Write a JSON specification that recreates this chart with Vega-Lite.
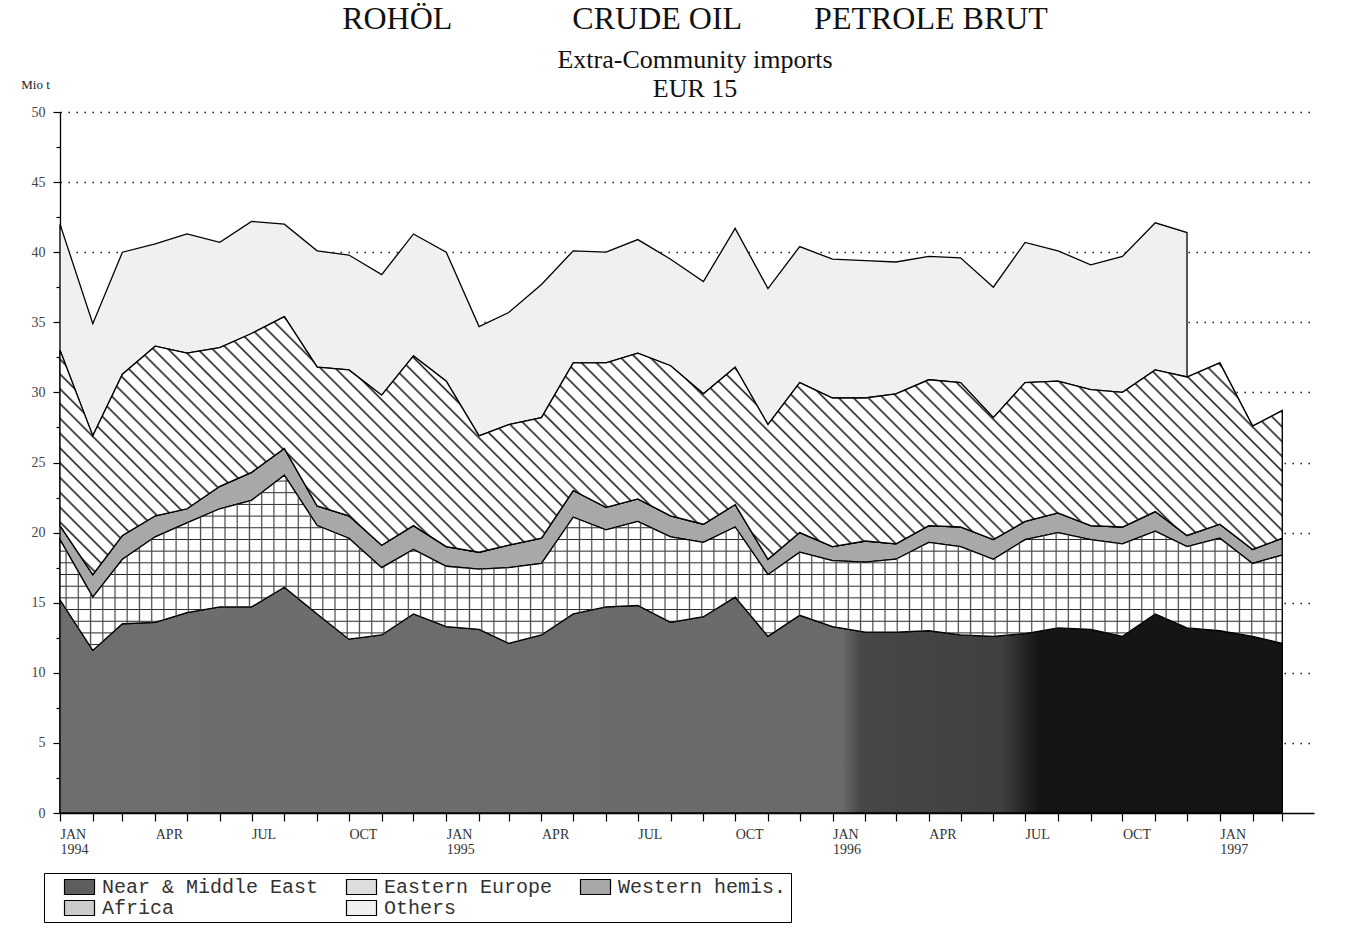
{
  "$schema": "https://vega.github.io/schema/vega-lite/v6.json",
  "width": 1254,
  "height": 701,
  "autosize": "none",
  "padding": {"left": 60, "top": 112, "right": 58, "bottom": 115},
  "background": "white",
  "config": {"view": {"stroke": null}, "font": "Liberation Serif"},
  "title": {
    "text": "ROHÖL\u00a0\u00a0\u00a0\u00a0\u00a0\u00a0\u00a0\u00a0\u00a0\u00a0\u00a0\u00a0\u00a0\u00a0\u00a0CRUDE OIL\u00a0\u00a0\u00a0\u00a0\u00a0\u00a0\u00a0\u00a0\u00a0PETROLE BRUT",
    "subtitle": ["Extra-Community imports", "EUR 15"],
    "anchor": "middle",
    "frame": "group",
    "dx": 8,
    "font": "Liberation Serif",
    "fontSize": 32,
    "fontWeight": "normal",
    "color": "#111",
    "subtitleFont": "Liberation Serif",
    "subtitleFontSize": 26,
    "subtitleColor": "#111",
    "subtitleLineHeight": 29,
    "subtitlePadding": 11,
    "offset": -25
  },
  "data": {
    "values": [
      {"month": "1994-01", "region": "Near & Middle East", "mt": 15.2},
      {"month": "1994-02", "region": "Near & Middle East", "mt": 11.6},
      {"month": "1994-03", "region": "Near & Middle East", "mt": 13.5},
      {"month": "1994-04", "region": "Near & Middle East", "mt": 13.6},
      {"month": "1994-05", "region": "Near & Middle East", "mt": 14.3},
      {"month": "1994-06", "region": "Near & Middle East", "mt": 14.7},
      {"month": "1994-07", "region": "Near & Middle East", "mt": 14.7},
      {"month": "1994-08", "region": "Near & Middle East", "mt": 16.1},
      {"month": "1994-09", "region": "Near & Middle East", "mt": 14.2},
      {"month": "1994-10", "region": "Near & Middle East", "mt": 12.4},
      {"month": "1994-11", "region": "Near & Middle East", "mt": 12.7},
      {"month": "1994-12", "region": "Near & Middle East", "mt": 14.2},
      {"month": "1995-01", "region": "Near & Middle East", "mt": 13.3},
      {"month": "1995-02", "region": "Near & Middle East", "mt": 13.1},
      {"month": "1995-03", "region": "Near & Middle East", "mt": 12.1},
      {"month": "1995-04", "region": "Near & Middle East", "mt": 12.7},
      {"month": "1995-05", "region": "Near & Middle East", "mt": 14.2},
      {"month": "1995-06", "region": "Near & Middle East", "mt": 14.7},
      {"month": "1995-07", "region": "Near & Middle East", "mt": 14.8},
      {"month": "1995-08", "region": "Near & Middle East", "mt": 13.6},
      {"month": "1995-09", "region": "Near & Middle East", "mt": 14.0},
      {"month": "1995-10", "region": "Near & Middle East", "mt": 15.4},
      {"month": "1995-11", "region": "Near & Middle East", "mt": 12.6},
      {"month": "1995-12", "region": "Near & Middle East", "mt": 14.1},
      {"month": "1996-01", "region": "Near & Middle East", "mt": 13.3},
      {"month": "1996-02", "region": "Near & Middle East", "mt": 12.9},
      {"month": "1996-03", "region": "Near & Middle East", "mt": 12.9},
      {"month": "1996-04", "region": "Near & Middle East", "mt": 13.0},
      {"month": "1996-05", "region": "Near & Middle East", "mt": 12.7},
      {"month": "1996-06", "region": "Near & Middle East", "mt": 12.6},
      {"month": "1996-07", "region": "Near & Middle East", "mt": 12.8},
      {"month": "1996-08", "region": "Near & Middle East", "mt": 13.2},
      {"month": "1996-09", "region": "Near & Middle East", "mt": 13.1},
      {"month": "1996-10", "region": "Near & Middle East", "mt": 12.6},
      {"month": "1996-11", "region": "Near & Middle East", "mt": 14.2},
      {"month": "1996-12", "region": "Near & Middle East", "mt": 13.2},
      {"month": "1997-01", "region": "Near & Middle East", "mt": 13.0},
      {"month": "1997-02", "region": "Near & Middle East", "mt": 12.6},
      {"month": "1997-03", "region": "Near & Middle East", "mt": 12.1},
      {"month": "1994-01", "region": "Eastern Europe", "mt": 4.3},
      {"month": "1994-02", "region": "Eastern Europe", "mt": 3.8},
      {"month": "1994-03", "region": "Eastern Europe", "mt": 4.6},
      {"month": "1994-04", "region": "Eastern Europe", "mt": 6.1},
      {"month": "1994-05", "region": "Eastern Europe", "mt": 6.4},
      {"month": "1994-06", "region": "Eastern Europe", "mt": 7.0},
      {"month": "1994-07", "region": "Eastern Europe", "mt": 7.6},
      {"month": "1994-08", "region": "Eastern Europe", "mt": 8.0},
      {"month": "1994-09", "region": "Eastern Europe", "mt": 6.3},
      {"month": "1994-10", "region": "Eastern Europe", "mt": 7.2},
      {"month": "1994-11", "region": "Eastern Europe", "mt": 4.8},
      {"month": "1994-12", "region": "Eastern Europe", "mt": 4.6},
      {"month": "1995-01", "region": "Eastern Europe", "mt": 4.3},
      {"month": "1995-02", "region": "Eastern Europe", "mt": 4.3},
      {"month": "1995-03", "region": "Eastern Europe", "mt": 5.4},
      {"month": "1995-04", "region": "Eastern Europe", "mt": 5.1},
      {"month": "1995-05", "region": "Eastern Europe", "mt": 6.9},
      {"month": "1995-06", "region": "Eastern Europe", "mt": 5.5},
      {"month": "1995-07", "region": "Eastern Europe", "mt": 6.0},
      {"month": "1995-08", "region": "Eastern Europe", "mt": 6.1},
      {"month": "1995-09", "region": "Eastern Europe", "mt": 5.3},
      {"month": "1995-10", "region": "Eastern Europe", "mt": 5.0},
      {"month": "1995-11", "region": "Eastern Europe", "mt": 4.4},
      {"month": "1995-12", "region": "Eastern Europe", "mt": 4.5},
      {"month": "1996-01", "region": "Eastern Europe", "mt": 4.7},
      {"month": "1996-02", "region": "Eastern Europe", "mt": 5.0},
      {"month": "1996-03", "region": "Eastern Europe", "mt": 5.2},
      {"month": "1996-04", "region": "Eastern Europe", "mt": 6.3},
      {"month": "1996-05", "region": "Eastern Europe", "mt": 6.3},
      {"month": "1996-06", "region": "Eastern Europe", "mt": 5.5},
      {"month": "1996-07", "region": "Eastern Europe", "mt": 6.7},
      {"month": "1996-08", "region": "Eastern Europe", "mt": 6.8},
      {"month": "1996-09", "region": "Eastern Europe", "mt": 6.4},
      {"month": "1996-10", "region": "Eastern Europe", "mt": 6.6},
      {"month": "1996-11", "region": "Eastern Europe", "mt": 5.9},
      {"month": "1996-12", "region": "Eastern Europe", "mt": 5.8},
      {"month": "1997-01", "region": "Eastern Europe", "mt": 6.6},
      {"month": "1997-02", "region": "Eastern Europe", "mt": 5.2},
      {"month": "1997-03", "region": "Eastern Europe", "mt": 6.3},
      {"month": "1994-01", "region": "Western hemis.", "mt": 1.0},
      {"month": "1994-02", "region": "Western hemis.", "mt": 1.6},
      {"month": "1994-03", "region": "Western hemis.", "mt": 1.7},
      {"month": "1994-04", "region": "Western hemis.", "mt": 1.5},
      {"month": "1994-05", "region": "Western hemis.", "mt": 1.0},
      {"month": "1994-06", "region": "Western hemis.", "mt": 1.6},
      {"month": "1994-07", "region": "Western hemis.", "mt": 2.0},
      {"month": "1994-08", "region": "Western hemis.", "mt": 1.9},
      {"month": "1994-09", "region": "Western hemis.", "mt": 1.4},
      {"month": "1994-10", "region": "Western hemis.", "mt": 1.6},
      {"month": "1994-11", "region": "Western hemis.", "mt": 1.6},
      {"month": "1994-12", "region": "Western hemis.", "mt": 1.7},
      {"month": "1995-01", "region": "Western hemis.", "mt": 1.4},
      {"month": "1995-02", "region": "Western hemis.", "mt": 1.2},
      {"month": "1995-03", "region": "Western hemis.", "mt": 1.6},
      {"month": "1995-04", "region": "Western hemis.", "mt": 1.8},
      {"month": "1995-05", "region": "Western hemis.", "mt": 1.9},
      {"month": "1995-06", "region": "Western hemis.", "mt": 1.6},
      {"month": "1995-07", "region": "Western hemis.", "mt": 1.6},
      {"month": "1995-08", "region": "Western hemis.", "mt": 1.5},
      {"month": "1995-09", "region": "Western hemis.", "mt": 1.3},
      {"month": "1995-10", "region": "Western hemis.", "mt": 1.6},
      {"month": "1995-11", "region": "Western hemis.", "mt": 1.1},
      {"month": "1995-12", "region": "Western hemis.", "mt": 1.4},
      {"month": "1996-01", "region": "Western hemis.", "mt": 1.0},
      {"month": "1996-02", "region": "Western hemis.", "mt": 1.5},
      {"month": "1996-03", "region": "Western hemis.", "mt": 1.1},
      {"month": "1996-04", "region": "Western hemis.", "mt": 1.2},
      {"month": "1996-05", "region": "Western hemis.", "mt": 1.4},
      {"month": "1996-06", "region": "Western hemis.", "mt": 1.4},
      {"month": "1996-07", "region": "Western hemis.", "mt": 1.3},
      {"month": "1996-08", "region": "Western hemis.", "mt": 1.4},
      {"month": "1996-09", "region": "Western hemis.", "mt": 1.0},
      {"month": "1996-10", "region": "Western hemis.", "mt": 1.2},
      {"month": "1996-11", "region": "Western hemis.", "mt": 1.4},
      {"month": "1996-12", "region": "Western hemis.", "mt": 0.8},
      {"month": "1997-01", "region": "Western hemis.", "mt": 1.0},
      {"month": "1997-02", "region": "Western hemis.", "mt": 1.0},
      {"month": "1997-03", "region": "Western hemis.", "mt": 1.2},
      {"month": "1994-01", "region": "Africa", "mt": 12.5},
      {"month": "1994-02", "region": "Africa", "mt": 9.9},
      {"month": "1994-03", "region": "Africa", "mt": 11.5},
      {"month": "1994-04", "region": "Africa", "mt": 12.1},
      {"month": "1994-05", "region": "Africa", "mt": 11.1},
      {"month": "1994-06", "region": "Africa", "mt": 9.9},
      {"month": "1994-07", "region": "Africa", "mt": 9.9},
      {"month": "1994-08", "region": "Africa", "mt": 9.4},
      {"month": "1994-09", "region": "Africa", "mt": 9.9},
      {"month": "1994-10", "region": "Africa", "mt": 10.4},
      {"month": "1994-11", "region": "Africa", "mt": 10.7},
      {"month": "1994-12", "region": "Africa", "mt": 12.1},
      {"month": "1995-01", "region": "Africa", "mt": 11.8},
      {"month": "1995-02", "region": "Africa", "mt": 8.3},
      {"month": "1995-03", "region": "Africa", "mt": 8.6},
      {"month": "1995-04", "region": "Africa", "mt": 8.6},
      {"month": "1995-05", "region": "Africa", "mt": 9.1},
      {"month": "1995-06", "region": "Africa", "mt": 10.3},
      {"month": "1995-07", "region": "Africa", "mt": 10.4},
      {"month": "1995-08", "region": "Africa", "mt": 10.7},
      {"month": "1995-09", "region": "Africa", "mt": 9.3},
      {"month": "1995-10", "region": "Africa", "mt": 9.8},
      {"month": "1995-11", "region": "Africa", "mt": 9.6},
      {"month": "1995-12", "region": "Africa", "mt": 10.7},
      {"month": "1996-01", "region": "Africa", "mt": 10.6},
      {"month": "1996-02", "region": "Africa", "mt": 10.2},
      {"month": "1996-03", "region": "Africa", "mt": 10.7},
      {"month": "1996-04", "region": "Africa", "mt": 10.4},
      {"month": "1996-05", "region": "Africa", "mt": 10.3},
      {"month": "1996-06", "region": "Africa", "mt": 8.7},
      {"month": "1996-07", "region": "Africa", "mt": 9.9},
      {"month": "1996-08", "region": "Africa", "mt": 9.4},
      {"month": "1996-09", "region": "Africa", "mt": 9.7},
      {"month": "1996-10", "region": "Africa", "mt": 9.6},
      {"month": "1996-11", "region": "Africa", "mt": 10.1},
      {"month": "1996-12", "region": "Africa", "mt": 11.3},
      {"month": "1997-01", "region": "Africa", "mt": 11.5},
      {"month": "1997-02", "region": "Africa", "mt": 8.8},
      {"month": "1997-03", "region": "Africa", "mt": 9.1},
      {"month": "1994-01", "region": "Others", "mt": 9.0},
      {"month": "1994-02", "region": "Others", "mt": 8.0},
      {"month": "1994-03", "region": "Others", "mt": 8.7},
      {"month": "1994-04", "region": "Others", "mt": 7.3},
      {"month": "1994-05", "region": "Others", "mt": 8.5},
      {"month": "1994-06", "region": "Others", "mt": 7.5},
      {"month": "1994-07", "region": "Others", "mt": 8.0},
      {"month": "1994-08", "region": "Others", "mt": 6.6},
      {"month": "1994-09", "region": "Others", "mt": 8.3},
      {"month": "1994-10", "region": "Others", "mt": 8.2},
      {"month": "1994-11", "region": "Others", "mt": 8.6},
      {"month": "1994-12", "region": "Others", "mt": 8.7},
      {"month": "1995-01", "region": "Others", "mt": 9.2},
      {"month": "1995-02", "region": "Others", "mt": 7.8},
      {"month": "1995-03", "region": "Others", "mt": 8.0},
      {"month": "1995-04", "region": "Others", "mt": 9.5},
      {"month": "1995-05", "region": "Others", "mt": 8.0},
      {"month": "1995-06", "region": "Others", "mt": 7.9},
      {"month": "1995-07", "region": "Others", "mt": 8.1},
      {"month": "1995-08", "region": "Others", "mt": 7.6},
      {"month": "1995-09", "region": "Others", "mt": 8.0},
      {"month": "1995-10", "region": "Others", "mt": 9.9},
      {"month": "1995-11", "region": "Others", "mt": 9.7},
      {"month": "1995-12", "region": "Others", "mt": 9.7},
      {"month": "1996-01", "region": "Others", "mt": 9.9},
      {"month": "1996-02", "region": "Others", "mt": 9.8},
      {"month": "1996-03", "region": "Others", "mt": 9.4},
      {"month": "1996-04", "region": "Others", "mt": 8.8},
      {"month": "1996-05", "region": "Others", "mt": 8.9},
      {"month": "1996-06", "region": "Others", "mt": 9.3},
      {"month": "1996-07", "region": "Others", "mt": 10.0},
      {"month": "1996-08", "region": "Others", "mt": 9.3},
      {"month": "1996-09", "region": "Others", "mt": 8.9},
      {"month": "1996-10", "region": "Others", "mt": 9.7},
      {"month": "1996-11", "region": "Others", "mt": 10.5},
      {"month": "1996-12", "region": "Others", "mt": 10.3}
    ]
  },
  "transform": [
    {"calculate": "indexof(['Near & Middle East', 'Eastern Europe', 'Western hemis.', 'Africa', 'Others'], datum.region)", "as": "stack_rank"},
    {"stack": "mt", "groupby": ["month"], "sort": [{"field": "stack_rank", "order": "ascending"}], "as": ["lo", "hi"]}
  ],
  "encoding": {
    "x": {
      "field": "month",
      "type": "temporal",
      "scale": {"type": "utc", "domain": [{"year": 1994, "month": 1, "date": 1, "utc": true}, {"year": 1997, "month": 3, "date": 31, "utc": true}]},
      "axis": {
        "title": null,
        "tickCount": {"interval": "month", "step": 1},
        "grid": false,
        "domainColor": "black",
        "domainWidth": 1.3,
        "tickColor": "black",
        "tickSize": 8,
        "tickWidth": 1.2,
        "labelAlign": "left",
        "labelBaseline": "top",
        "labelPadding": 6,
        "labelFont": "Liberation Serif",
        "labelFontSize": 14,
        "labelColor": "#333",
        "labelLineHeight": 15,
        "labelOverlap": false,
        "labelFlush": false,
        "labelBound": false,
        "labelExpr": "utcmonth(datum.value) == 0 ? ['JAN', utcFormat(datum.value, '%Y')] : utcmonth(datum.value) == 3 ? 'APR' : utcmonth(datum.value) == 6 ? 'JUL' : utcmonth(datum.value) == 9 ? 'OCT' : ''"
      }
    },
    "y": {
      "field": "hi",
      "type": "quantitative",
      "scale": {"domain": [0, 50], "nice": false},
      "axis": {
        "title": "Mio t",
        "titleAngle": 0,
        "titleX": -25,
        "titleY": -28,
        "titleAlign": "center",
        "titleBaseline": "middle",
        "titleFont": "Liberation Serif",
        "titleFontSize": 13,
        "titleFontWeight": "normal",
        "titleColor": "#222",
        "values": [0, 2.5, 5, 7.5, 10, 12.5, 15, 17.5, 20, 22.5, 25, 27.5, 30, 32.5, 35, 37.5, 40, 42.5, 45, 47.5, 50],
        "labelExpr": "datum.value % 5 == 0 ? format(datum.value, 'd') : ''",
        "tickSize": {"condition": {"test": "datum.value % 5 == 0", "value": 7}, "value": 4},
        "tickColor": "black",
        "tickWidth": 1.2,
        "grid": true,
        "gridOpacity": {"condition": {"test": "datum.value % 5 == 0 && datum.value > 0", "value": 1}, "value": 0},
        "gridDash": [1.5, 6.5],
        "gridColor": "#222",
        "gridWidth": 1.3,
        "domainColor": "black",
        "domainWidth": 1.3,
        "labelFont": "Liberation Serif",
        "labelFontSize": 14,
        "labelColor": "#444",
        "labelPadding": 8
      }
    },
    "y2": {"field": "lo"}
  },
  "layer": [
    {
      "mark": {"type": "area", "stroke": "black", "strokeWidth": 1.3, "opacity": 1, "interpolate": "linear", "strokeJoin": "miter"},
      "encoding": {
        "color": {
          "field": "region",
          "type": "nominal",
          "sort": ["Near & Middle East", "Eastern Europe", "Western hemis.", "Africa", "Others"],
          "scale": {
            "domain": ["Near & Middle East", "Eastern Europe", "Western hemis.", "Africa", "Others"],
            "range": ["#5e5e5e", "#dedede", "#a8a8a8", "#cbcbcb", "#f0f0f0"]
          },
          "legend": {
            "orient": "none",
            "legendX": -16,
            "legendY": 761,
            "direction": "horizontal",
            "columns": 3,
            "title": "\u00a0",
            "titleOrient": "left",
            "titleFontSize": 2,
            "titlePadding": 14,
            "symbolType": "M-1,-1H3V1H-1Z",
            "symbolSize": 225,
            "symbolStrokeColor": "black",
            "symbolStrokeWidth": 1.2,
            "symbolOpacity": 1,
            "labelFont": "Liberation Mono",
            "labelFontSize": 20,
            "labelColor": "#333",
            "labelLimit": 400,
            "labelOffset": 20,
            "columnPadding": 25,
            "rowPadding": 1,
            "padding": 4,
            "strokeColor": "black",
            "fillColor": "white"
          }
        }
      }
    },
    {
      "transform": [{"filter": {"field": "region", "equal": "Near & Middle East"}}],
      "mark": {
        "type": "area", "stroke": "black", "strokeWidth": 1.3, "opacity": 1, "interpolate": "linear", "strokeJoin": "miter",
        "fill": {"gradient": "linear", "x1": 0, "y1": 0, "x2": 1, "y2": 0, "stops": [
          {"offset": 0, "color": "#6e6e6e"},
          {"offset": 0.64, "color": "#6a6a6a"},
          {"offset": 0.655, "color": "#474747"},
          {"offset": 0.77, "color": "#404040"},
          {"offset": 0.8, "color": "#151515"},
          {"offset": 1, "color": "#151515"}
        ]}
      }
    },
    {
      "transform": [{"filter": {"field": "region", "equal": "Eastern Europe"}}],
      "mark": {
        "type": "area", "stroke": "black", "strokeWidth": 1.3, "opacity": 1, "interpolate": "linear", "strokeJoin": "miter",
        "fill": {"gradient": "linear", "x1": 0, "y1": 0, "x2": 0, "y2": 1, "stops": [
          {"offset":0.0283,"color":"#fff"},{"offset":0.0338,"color":"#222"},{"offset":0.0393,"color":"#fff"},
          {"offset":0.0949,"color":"#fff"},{"offset":0.1004,"color":"#222"},{"offset":0.1059,"color":"#fff"},
          {"offset":0.1616,"color":"#fff"},{"offset":0.1671,"color":"#222"},{"offset":0.1726,"color":"#fff"},
          {"offset":0.2283,"color":"#fff"},{"offset":0.2338,"color":"#222"},{"offset":0.2393,"color":"#fff"},
          {"offset":0.2949,"color":"#fff"},{"offset":0.3004,"color":"#222"},{"offset":0.3059,"color":"#fff"},
          {"offset":0.3616,"color":"#fff"},{"offset":0.3671,"color":"#222"},{"offset":0.3726,"color":"#fff"},
          {"offset":0.4283,"color":"#fff"},{"offset":0.4338,"color":"#222"},{"offset":0.4393,"color":"#fff"},
          {"offset":0.4949,"color":"#fff"},{"offset":0.5004,"color":"#222"},{"offset":0.5059,"color":"#fff"},
          {"offset":0.5616,"color":"#fff"},{"offset":0.5671,"color":"#222"},{"offset":0.5726,"color":"#fff"},
          {"offset":0.6283,"color":"#fff"},{"offset":0.6338,"color":"#222"},{"offset":0.6393,"color":"#fff"},
          {"offset":0.6949,"color":"#fff"},{"offset":0.7004,"color":"#222"},{"offset":0.7059,"color":"#fff"},
          {"offset":0.7616,"color":"#fff"},{"offset":0.7671,"color":"#222"},{"offset":0.7726,"color":"#fff"},
          {"offset":0.8283,"color":"#fff"},{"offset":0.8338,"color":"#222"},{"offset":0.8393,"color":"#fff"},
          {"offset":0.8949,"color":"#fff"},{"offset":0.9004,"color":"#222"},{"offset":0.9059,"color":"#fff"},
          {"offset":0.9616,"color":"#fff"},{"offset":0.9671,"color":"#222"},{"offset":0.9726,"color":"#fff"}
        ]}
      }
    },
    {
      "transform": [{"filter": {"field": "region", "equal": "Eastern Europe"}}],
      "mark": {
        "type": "area", "strokeWidth": 0, "opacity": 1, "interpolate": "linear",
        "fill": {"gradient": "linear", "x1": 0, "y1": 0, "x2": 1, "y2": 0, "stops": [
          {"offset":0.004,"color":"rgba(74,74,74,0)"},{"offset":0.005,"color":"#4a4a4a"},{"offset":0.006,"color":"rgba(74,74,74,0)"},
          {"offset":0.014,"color":"rgba(74,74,74,0)"},{"offset":0.015,"color":"#4a4a4a"},{"offset":0.016,"color":"rgba(74,74,74,0)"},
          {"offset":0.024,"color":"rgba(74,74,74,0)"},{"offset":0.025,"color":"#4a4a4a"},{"offset":0.026,"color":"rgba(74,74,74,0)"},
          {"offset":0.034,"color":"rgba(74,74,74,0)"},{"offset":0.035,"color":"#4a4a4a"},{"offset":0.036,"color":"rgba(74,74,74,0)"},
          {"offset":0.044,"color":"rgba(74,74,74,0)"},{"offset":0.045,"color":"#4a4a4a"},{"offset":0.046,"color":"rgba(74,74,74,0)"},
          {"offset":0.054,"color":"rgba(74,74,74,0)"},{"offset":0.055,"color":"#4a4a4a"},{"offset":0.056,"color":"rgba(74,74,74,0)"},
          {"offset":0.064,"color":"rgba(74,74,74,0)"},{"offset":0.065,"color":"#4a4a4a"},{"offset":0.066,"color":"rgba(74,74,74,0)"},
          {"offset":0.074,"color":"rgba(74,74,74,0)"},{"offset":0.075,"color":"#4a4a4a"},{"offset":0.076,"color":"rgba(74,74,74,0)"},
          {"offset":0.084,"color":"rgba(74,74,74,0)"},{"offset":0.085,"color":"#4a4a4a"},{"offset":0.086,"color":"rgba(74,74,74,0)"},
          {"offset":0.094,"color":"rgba(74,74,74,0)"},{"offset":0.095,"color":"#4a4a4a"},{"offset":0.096,"color":"rgba(74,74,74,0)"},
          {"offset":0.104,"color":"rgba(74,74,74,0)"},{"offset":0.105,"color":"#4a4a4a"},{"offset":0.106,"color":"rgba(74,74,74,0)"},
          {"offset":0.114,"color":"rgba(74,74,74,0)"},{"offset":0.115,"color":"#4a4a4a"},{"offset":0.116,"color":"rgba(74,74,74,0)"},
          {"offset":0.124,"color":"rgba(74,74,74,0)"},{"offset":0.125,"color":"#4a4a4a"},{"offset":0.126,"color":"rgba(74,74,74,0)"},
          {"offset":0.134,"color":"rgba(74,74,74,0)"},{"offset":0.135,"color":"#4a4a4a"},{"offset":0.136,"color":"rgba(74,74,74,0)"},
          {"offset":0.144,"color":"rgba(74,74,74,0)"},{"offset":0.145,"color":"#4a4a4a"},{"offset":0.146,"color":"rgba(74,74,74,0)"},
          {"offset":0.154,"color":"rgba(74,74,74,0)"},{"offset":0.155,"color":"#4a4a4a"},{"offset":0.156,"color":"rgba(74,74,74,0)"},
          {"offset":0.164,"color":"rgba(74,74,74,0)"},{"offset":0.165,"color":"#4a4a4a"},{"offset":0.166,"color":"rgba(74,74,74,0)"},
          {"offset":0.174,"color":"rgba(74,74,74,0)"},{"offset":0.175,"color":"#4a4a4a"},{"offset":0.176,"color":"rgba(74,74,74,0)"},
          {"offset":0.184,"color":"rgba(74,74,74,0)"},{"offset":0.185,"color":"#4a4a4a"},{"offset":0.186,"color":"rgba(74,74,74,0)"},
          {"offset":0.194,"color":"rgba(74,74,74,0)"},{"offset":0.195,"color":"#4a4a4a"},{"offset":0.196,"color":"rgba(74,74,74,0)"},
          {"offset":0.204,"color":"rgba(74,74,74,0)"},{"offset":0.205,"color":"#4a4a4a"},{"offset":0.206,"color":"rgba(74,74,74,0)"},
          {"offset":0.214,"color":"rgba(74,74,74,0)"},{"offset":0.215,"color":"#4a4a4a"},{"offset":0.216,"color":"rgba(74,74,74,0)"},
          {"offset":0.224,"color":"rgba(74,74,74,0)"},{"offset":0.225,"color":"#4a4a4a"},{"offset":0.226,"color":"rgba(74,74,74,0)"},
          {"offset":0.234,"color":"rgba(74,74,74,0)"},{"offset":0.235,"color":"#4a4a4a"},{"offset":0.236,"color":"rgba(74,74,74,0)"},
          {"offset":0.244,"color":"rgba(74,74,74,0)"},{"offset":0.245,"color":"#4a4a4a"},{"offset":0.246,"color":"rgba(74,74,74,0)"},
          {"offset":0.254,"color":"rgba(74,74,74,0)"},{"offset":0.255,"color":"#4a4a4a"},{"offset":0.256,"color":"rgba(74,74,74,0)"},
          {"offset":0.264,"color":"rgba(74,74,74,0)"},{"offset":0.265,"color":"#4a4a4a"},{"offset":0.266,"color":"rgba(74,74,74,0)"},
          {"offset":0.274,"color":"rgba(74,74,74,0)"},{"offset":0.275,"color":"#4a4a4a"},{"offset":0.276,"color":"rgba(74,74,74,0)"},
          {"offset":0.284,"color":"rgba(74,74,74,0)"},{"offset":0.285,"color":"#4a4a4a"},{"offset":0.286,"color":"rgba(74,74,74,0)"},
          {"offset":0.294,"color":"rgba(74,74,74,0)"},{"offset":0.295,"color":"#4a4a4a"},{"offset":0.296,"color":"rgba(74,74,74,0)"},
          {"offset":0.304,"color":"rgba(74,74,74,0)"},{"offset":0.305,"color":"#4a4a4a"},{"offset":0.306,"color":"rgba(74,74,74,0)"},
          {"offset":0.314,"color":"rgba(74,74,74,0)"},{"offset":0.315,"color":"#4a4a4a"},{"offset":0.316,"color":"rgba(74,74,74,0)"},
          {"offset":0.324,"color":"rgba(74,74,74,0)"},{"offset":0.325,"color":"#4a4a4a"},{"offset":0.326,"color":"rgba(74,74,74,0)"},
          {"offset":0.334,"color":"rgba(74,74,74,0)"},{"offset":0.335,"color":"#4a4a4a"},{"offset":0.336,"color":"rgba(74,74,74,0)"},
          {"offset":0.344,"color":"rgba(74,74,74,0)"},{"offset":0.345,"color":"#4a4a4a"},{"offset":0.346,"color":"rgba(74,74,74,0)"},
          {"offset":0.354,"color":"rgba(74,74,74,0)"},{"offset":0.355,"color":"#4a4a4a"},{"offset":0.356,"color":"rgba(74,74,74,0)"},
          {"offset":0.364,"color":"rgba(74,74,74,0)"},{"offset":0.365,"color":"#4a4a4a"},{"offset":0.366,"color":"rgba(74,74,74,0)"},
          {"offset":0.374,"color":"rgba(74,74,74,0)"},{"offset":0.375,"color":"#4a4a4a"},{"offset":0.376,"color":"rgba(74,74,74,0)"},
          {"offset":0.384,"color":"rgba(74,74,74,0)"},{"offset":0.385,"color":"#4a4a4a"},{"offset":0.386,"color":"rgba(74,74,74,0)"},
          {"offset":0.394,"color":"rgba(74,74,74,0)"},{"offset":0.395,"color":"#4a4a4a"},{"offset":0.396,"color":"rgba(74,74,74,0)"},
          {"offset":0.404,"color":"rgba(74,74,74,0)"},{"offset":0.405,"color":"#4a4a4a"},{"offset":0.406,"color":"rgba(74,74,74,0)"},
          {"offset":0.414,"color":"rgba(74,74,74,0)"},{"offset":0.415,"color":"#4a4a4a"},{"offset":0.416,"color":"rgba(74,74,74,0)"},
          {"offset":0.424,"color":"rgba(74,74,74,0)"},{"offset":0.425,"color":"#4a4a4a"},{"offset":0.426,"color":"rgba(74,74,74,0)"},
          {"offset":0.434,"color":"rgba(74,74,74,0)"},{"offset":0.435,"color":"#4a4a4a"},{"offset":0.436,"color":"rgba(74,74,74,0)"},
          {"offset":0.444,"color":"rgba(74,74,74,0)"},{"offset":0.445,"color":"#4a4a4a"},{"offset":0.446,"color":"rgba(74,74,74,0)"},
          {"offset":0.454,"color":"rgba(74,74,74,0)"},{"offset":0.455,"color":"#4a4a4a"},{"offset":0.456,"color":"rgba(74,74,74,0)"},
          {"offset":0.464,"color":"rgba(74,74,74,0)"},{"offset":0.465,"color":"#4a4a4a"},{"offset":0.466,"color":"rgba(74,74,74,0)"},
          {"offset":0.474,"color":"rgba(74,74,74,0)"},{"offset":0.475,"color":"#4a4a4a"},{"offset":0.476,"color":"rgba(74,74,74,0)"},
          {"offset":0.484,"color":"rgba(74,74,74,0)"},{"offset":0.485,"color":"#4a4a4a"},{"offset":0.486,"color":"rgba(74,74,74,0)"},
          {"offset":0.494,"color":"rgba(74,74,74,0)"},{"offset":0.495,"color":"#4a4a4a"},{"offset":0.496,"color":"rgba(74,74,74,0)"},
          {"offset":0.504,"color":"rgba(74,74,74,0)"},{"offset":0.505,"color":"#4a4a4a"},{"offset":0.506,"color":"rgba(74,74,74,0)"},
          {"offset":0.514,"color":"rgba(74,74,74,0)"},{"offset":0.515,"color":"#4a4a4a"},{"offset":0.516,"color":"rgba(74,74,74,0)"},
          {"offset":0.524,"color":"rgba(74,74,74,0)"},{"offset":0.525,"color":"#4a4a4a"},{"offset":0.526,"color":"rgba(74,74,74,0)"},
          {"offset":0.534,"color":"rgba(74,74,74,0)"},{"offset":0.535,"color":"#4a4a4a"},{"offset":0.536,"color":"rgba(74,74,74,0)"},
          {"offset":0.544,"color":"rgba(74,74,74,0)"},{"offset":0.545,"color":"#4a4a4a"},{"offset":0.546,"color":"rgba(74,74,74,0)"},
          {"offset":0.554,"color":"rgba(74,74,74,0)"},{"offset":0.555,"color":"#4a4a4a"},{"offset":0.556,"color":"rgba(74,74,74,0)"},
          {"offset":0.564,"color":"rgba(74,74,74,0)"},{"offset":0.565,"color":"#4a4a4a"},{"offset":0.566,"color":"rgba(74,74,74,0)"},
          {"offset":0.574,"color":"rgba(74,74,74,0)"},{"offset":0.575,"color":"#4a4a4a"},{"offset":0.576,"color":"rgba(74,74,74,0)"},
          {"offset":0.584,"color":"rgba(74,74,74,0)"},{"offset":0.585,"color":"#4a4a4a"},{"offset":0.586,"color":"rgba(74,74,74,0)"},
          {"offset":0.594,"color":"rgba(74,74,74,0)"},{"offset":0.595,"color":"#4a4a4a"},{"offset":0.596,"color":"rgba(74,74,74,0)"},
          {"offset":0.604,"color":"rgba(74,74,74,0)"},{"offset":0.605,"color":"#4a4a4a"},{"offset":0.606,"color":"rgba(74,74,74,0)"},
          {"offset":0.614,"color":"rgba(74,74,74,0)"},{"offset":0.615,"color":"#4a4a4a"},{"offset":0.616,"color":"rgba(74,74,74,0)"},
          {"offset":0.624,"color":"rgba(74,74,74,0)"},{"offset":0.625,"color":"#4a4a4a"},{"offset":0.626,"color":"rgba(74,74,74,0)"},
          {"offset":0.634,"color":"rgba(74,74,74,0)"},{"offset":0.635,"color":"#4a4a4a"},{"offset":0.636,"color":"rgba(74,74,74,0)"},
          {"offset":0.644,"color":"rgba(74,74,74,0)"},{"offset":0.645,"color":"#4a4a4a"},{"offset":0.646,"color":"rgba(74,74,74,0)"},
          {"offset":0.654,"color":"rgba(74,74,74,0)"},{"offset":0.655,"color":"#4a4a4a"},{"offset":0.656,"color":"rgba(74,74,74,0)"},
          {"offset":0.664,"color":"rgba(74,74,74,0)"},{"offset":0.665,"color":"#4a4a4a"},{"offset":0.666,"color":"rgba(74,74,74,0)"},
          {"offset":0.674,"color":"rgba(74,74,74,0)"},{"offset":0.675,"color":"#4a4a4a"},{"offset":0.676,"color":"rgba(74,74,74,0)"},
          {"offset":0.684,"color":"rgba(74,74,74,0)"},{"offset":0.685,"color":"#4a4a4a"},{"offset":0.686,"color":"rgba(74,74,74,0)"},
          {"offset":0.694,"color":"rgba(74,74,74,0)"},{"offset":0.695,"color":"#4a4a4a"},{"offset":0.696,"color":"rgba(74,74,74,0)"},
          {"offset":0.704,"color":"rgba(74,74,74,0)"},{"offset":0.705,"color":"#4a4a4a"},{"offset":0.706,"color":"rgba(74,74,74,0)"},
          {"offset":0.714,"color":"rgba(74,74,74,0)"},{"offset":0.715,"color":"#4a4a4a"},{"offset":0.716,"color":"rgba(74,74,74,0)"},
          {"offset":0.724,"color":"rgba(74,74,74,0)"},{"offset":0.725,"color":"#4a4a4a"},{"offset":0.726,"color":"rgba(74,74,74,0)"},
          {"offset":0.734,"color":"rgba(74,74,74,0)"},{"offset":0.735,"color":"#4a4a4a"},{"offset":0.736,"color":"rgba(74,74,74,0)"},
          {"offset":0.744,"color":"rgba(74,74,74,0)"},{"offset":0.745,"color":"#4a4a4a"},{"offset":0.746,"color":"rgba(74,74,74,0)"},
          {"offset":0.754,"color":"rgba(74,74,74,0)"},{"offset":0.755,"color":"#4a4a4a"},{"offset":0.756,"color":"rgba(74,74,74,0)"},
          {"offset":0.764,"color":"rgba(74,74,74,0)"},{"offset":0.765,"color":"#4a4a4a"},{"offset":0.766,"color":"rgba(74,74,74,0)"},
          {"offset":0.774,"color":"rgba(74,74,74,0)"},{"offset":0.775,"color":"#4a4a4a"},{"offset":0.776,"color":"rgba(74,74,74,0)"},
          {"offset":0.784,"color":"rgba(74,74,74,0)"},{"offset":0.785,"color":"#4a4a4a"},{"offset":0.786,"color":"rgba(74,74,74,0)"},
          {"offset":0.794,"color":"rgba(74,74,74,0)"},{"offset":0.795,"color":"#4a4a4a"},{"offset":0.796,"color":"rgba(74,74,74,0)"},
          {"offset":0.804,"color":"rgba(74,74,74,0)"},{"offset":0.805,"color":"#4a4a4a"},{"offset":0.806,"color":"rgba(74,74,74,0)"},
          {"offset":0.814,"color":"rgba(74,74,74,0)"},{"offset":0.815,"color":"#4a4a4a"},{"offset":0.816,"color":"rgba(74,74,74,0)"},
          {"offset":0.824,"color":"rgba(74,74,74,0)"},{"offset":0.825,"color":"#4a4a4a"},{"offset":0.826,"color":"rgba(74,74,74,0)"},
          {"offset":0.834,"color":"rgba(74,74,74,0)"},{"offset":0.835,"color":"#4a4a4a"},{"offset":0.836,"color":"rgba(74,74,74,0)"},
          {"offset":0.844,"color":"rgba(74,74,74,0)"},{"offset":0.845,"color":"#4a4a4a"},{"offset":0.846,"color":"rgba(74,74,74,0)"},
          {"offset":0.854,"color":"rgba(74,74,74,0)"},{"offset":0.855,"color":"#4a4a4a"},{"offset":0.856,"color":"rgba(74,74,74,0)"},
          {"offset":0.864,"color":"rgba(74,74,74,0)"},{"offset":0.865,"color":"#4a4a4a"},{"offset":0.866,"color":"rgba(74,74,74,0)"},
          {"offset":0.874,"color":"rgba(74,74,74,0)"},{"offset":0.875,"color":"#4a4a4a"},{"offset":0.876,"color":"rgba(74,74,74,0)"},
          {"offset":0.884,"color":"rgba(74,74,74,0)"},{"offset":0.885,"color":"#4a4a4a"},{"offset":0.886,"color":"rgba(74,74,74,0)"},
          {"offset":0.894,"color":"rgba(74,74,74,0)"},{"offset":0.895,"color":"#4a4a4a"},{"offset":0.896,"color":"rgba(74,74,74,0)"},
          {"offset":0.904,"color":"rgba(74,74,74,0)"},{"offset":0.905,"color":"#4a4a4a"},{"offset":0.906,"color":"rgba(74,74,74,0)"},
          {"offset":0.914,"color":"rgba(74,74,74,0)"},{"offset":0.915,"color":"#4a4a4a"},{"offset":0.916,"color":"rgba(74,74,74,0)"},
          {"offset":0.924,"color":"rgba(74,74,74,0)"},{"offset":0.925,"color":"#4a4a4a"},{"offset":0.926,"color":"rgba(74,74,74,0)"},
          {"offset":0.934,"color":"rgba(74,74,74,0)"},{"offset":0.935,"color":"#4a4a4a"},{"offset":0.936,"color":"rgba(74,74,74,0)"},
          {"offset":0.944,"color":"rgba(74,74,74,0)"},{"offset":0.945,"color":"#4a4a4a"},{"offset":0.946,"color":"rgba(74,74,74,0)"},
          {"offset":0.954,"color":"rgba(74,74,74,0)"},{"offset":0.955,"color":"#4a4a4a"},{"offset":0.956,"color":"rgba(74,74,74,0)"},
          {"offset":0.964,"color":"rgba(74,74,74,0)"},{"offset":0.965,"color":"#4a4a4a"},{"offset":0.966,"color":"rgba(74,74,74,0)"},
          {"offset":0.974,"color":"rgba(74,74,74,0)"},{"offset":0.975,"color":"#4a4a4a"},{"offset":0.976,"color":"rgba(74,74,74,0)"},
          {"offset":0.984,"color":"rgba(74,74,74,0)"},{"offset":0.985,"color":"#4a4a4a"},{"offset":0.986,"color":"rgba(74,74,74,0)"},
          {"offset":0.994,"color":"rgba(74,74,74,0)"},{"offset":0.995,"color":"#4a4a4a"},{"offset":0.996,"color":"rgba(74,74,74,0)"}
        ]}
      }
    },
    {
      "transform": [{"filter": {"field": "region", "equal": "Africa"}}],
      "mark": {
        "type": "area", "stroke": "black", "strokeWidth": 1.3, "opacity": 1, "interpolate": "linear", "strokeJoin": "miter",
        "fill": {"gradient": "linear", "x1": 1, "y1": 0, "x2": -0.1594, "y2": 0.2448, "stops": [
          {"offset":0.003,"color":"#fff"},{"offset":0.0045,"color":"#1c1c1c"},{"offset":0.006,"color":"#fff"},
          {"offset":0.013,"color":"#fff"},{"offset":0.0145,"color":"#1c1c1c"},{"offset":0.016,"color":"#fff"},
          {"offset":0.023,"color":"#fff"},{"offset":0.0245,"color":"#1c1c1c"},{"offset":0.026,"color":"#fff"},
          {"offset":0.033,"color":"#fff"},{"offset":0.0345,"color":"#1c1c1c"},{"offset":0.036,"color":"#fff"},
          {"offset":0.043,"color":"#fff"},{"offset":0.0445,"color":"#1c1c1c"},{"offset":0.046,"color":"#fff"},
          {"offset":0.053,"color":"#fff"},{"offset":0.0545,"color":"#1c1c1c"},{"offset":0.056,"color":"#fff"},
          {"offset":0.063,"color":"#fff"},{"offset":0.0645,"color":"#1c1c1c"},{"offset":0.066,"color":"#fff"},
          {"offset":0.073,"color":"#fff"},{"offset":0.0745,"color":"#1c1c1c"},{"offset":0.076,"color":"#fff"},
          {"offset":0.083,"color":"#fff"},{"offset":0.0845,"color":"#1c1c1c"},{"offset":0.086,"color":"#fff"},
          {"offset":0.093,"color":"#fff"},{"offset":0.0945,"color":"#1c1c1c"},{"offset":0.096,"color":"#fff"},
          {"offset":0.103,"color":"#fff"},{"offset":0.1045,"color":"#1c1c1c"},{"offset":0.106,"color":"#fff"},
          {"offset":0.113,"color":"#fff"},{"offset":0.1145,"color":"#1c1c1c"},{"offset":0.116,"color":"#fff"},
          {"offset":0.123,"color":"#fff"},{"offset":0.1245,"color":"#1c1c1c"},{"offset":0.126,"color":"#fff"},
          {"offset":0.133,"color":"#fff"},{"offset":0.1345,"color":"#1c1c1c"},{"offset":0.136,"color":"#fff"},
          {"offset":0.143,"color":"#fff"},{"offset":0.1445,"color":"#1c1c1c"},{"offset":0.146,"color":"#fff"},
          {"offset":0.153,"color":"#fff"},{"offset":0.1545,"color":"#1c1c1c"},{"offset":0.156,"color":"#fff"},
          {"offset":0.163,"color":"#fff"},{"offset":0.1645,"color":"#1c1c1c"},{"offset":0.166,"color":"#fff"},
          {"offset":0.173,"color":"#fff"},{"offset":0.1745,"color":"#1c1c1c"},{"offset":0.176,"color":"#fff"},
          {"offset":0.183,"color":"#fff"},{"offset":0.1845,"color":"#1c1c1c"},{"offset":0.186,"color":"#fff"},
          {"offset":0.193,"color":"#fff"},{"offset":0.1945,"color":"#1c1c1c"},{"offset":0.196,"color":"#fff"},
          {"offset":0.203,"color":"#fff"},{"offset":0.2045,"color":"#1c1c1c"},{"offset":0.206,"color":"#fff"},
          {"offset":0.213,"color":"#fff"},{"offset":0.2145,"color":"#1c1c1c"},{"offset":0.216,"color":"#fff"},
          {"offset":0.223,"color":"#fff"},{"offset":0.2245,"color":"#1c1c1c"},{"offset":0.226,"color":"#fff"},
          {"offset":0.233,"color":"#fff"},{"offset":0.2345,"color":"#1c1c1c"},{"offset":0.236,"color":"#fff"},
          {"offset":0.243,"color":"#fff"},{"offset":0.2445,"color":"#1c1c1c"},{"offset":0.246,"color":"#fff"},
          {"offset":0.253,"color":"#fff"},{"offset":0.2545,"color":"#1c1c1c"},{"offset":0.256,"color":"#fff"},
          {"offset":0.263,"color":"#fff"},{"offset":0.2645,"color":"#1c1c1c"},{"offset":0.266,"color":"#fff"},
          {"offset":0.273,"color":"#fff"},{"offset":0.2745,"color":"#1c1c1c"},{"offset":0.276,"color":"#fff"},
          {"offset":0.283,"color":"#fff"},{"offset":0.2845,"color":"#1c1c1c"},{"offset":0.286,"color":"#fff"},
          {"offset":0.293,"color":"#fff"},{"offset":0.2945,"color":"#1c1c1c"},{"offset":0.296,"color":"#fff"},
          {"offset":0.303,"color":"#fff"},{"offset":0.3045,"color":"#1c1c1c"},{"offset":0.306,"color":"#fff"},
          {"offset":0.313,"color":"#fff"},{"offset":0.3145,"color":"#1c1c1c"},{"offset":0.316,"color":"#fff"},
          {"offset":0.323,"color":"#fff"},{"offset":0.3245,"color":"#1c1c1c"},{"offset":0.326,"color":"#fff"},
          {"offset":0.333,"color":"#fff"},{"offset":0.3345,"color":"#1c1c1c"},{"offset":0.336,"color":"#fff"},
          {"offset":0.343,"color":"#fff"},{"offset":0.3445,"color":"#1c1c1c"},{"offset":0.346,"color":"#fff"},
          {"offset":0.353,"color":"#fff"},{"offset":0.3545,"color":"#1c1c1c"},{"offset":0.356,"color":"#fff"},
          {"offset":0.363,"color":"#fff"},{"offset":0.3645,"color":"#1c1c1c"},{"offset":0.366,"color":"#fff"},
          {"offset":0.373,"color":"#fff"},{"offset":0.3745,"color":"#1c1c1c"},{"offset":0.376,"color":"#fff"},
          {"offset":0.383,"color":"#fff"},{"offset":0.3845,"color":"#1c1c1c"},{"offset":0.386,"color":"#fff"},
          {"offset":0.393,"color":"#fff"},{"offset":0.3945,"color":"#1c1c1c"},{"offset":0.396,"color":"#fff"},
          {"offset":0.403,"color":"#fff"},{"offset":0.4045,"color":"#1c1c1c"},{"offset":0.406,"color":"#fff"},
          {"offset":0.413,"color":"#fff"},{"offset":0.4145,"color":"#1c1c1c"},{"offset":0.416,"color":"#fff"},
          {"offset":0.423,"color":"#fff"},{"offset":0.4245,"color":"#1c1c1c"},{"offset":0.426,"color":"#fff"},
          {"offset":0.433,"color":"#fff"},{"offset":0.4345,"color":"#1c1c1c"},{"offset":0.436,"color":"#fff"},
          {"offset":0.443,"color":"#fff"},{"offset":0.4445,"color":"#1c1c1c"},{"offset":0.446,"color":"#fff"},
          {"offset":0.453,"color":"#fff"},{"offset":0.4545,"color":"#1c1c1c"},{"offset":0.456,"color":"#fff"},
          {"offset":0.463,"color":"#fff"},{"offset":0.4645,"color":"#1c1c1c"},{"offset":0.466,"color":"#fff"},
          {"offset":0.473,"color":"#fff"},{"offset":0.4745,"color":"#1c1c1c"},{"offset":0.476,"color":"#fff"},
          {"offset":0.483,"color":"#fff"},{"offset":0.4845,"color":"#1c1c1c"},{"offset":0.486,"color":"#fff"},
          {"offset":0.493,"color":"#fff"},{"offset":0.4945,"color":"#1c1c1c"},{"offset":0.496,"color":"#fff"},
          {"offset":0.503,"color":"#fff"},{"offset":0.5045,"color":"#1c1c1c"},{"offset":0.506,"color":"#fff"},
          {"offset":0.513,"color":"#fff"},{"offset":0.5145,"color":"#1c1c1c"},{"offset":0.516,"color":"#fff"},
          {"offset":0.523,"color":"#fff"},{"offset":0.5245,"color":"#1c1c1c"},{"offset":0.526,"color":"#fff"},
          {"offset":0.533,"color":"#fff"},{"offset":0.5345,"color":"#1c1c1c"},{"offset":0.536,"color":"#fff"},
          {"offset":0.543,"color":"#fff"},{"offset":0.5445,"color":"#1c1c1c"},{"offset":0.546,"color":"#fff"},
          {"offset":0.553,"color":"#fff"},{"offset":0.5545,"color":"#1c1c1c"},{"offset":0.556,"color":"#fff"},
          {"offset":0.563,"color":"#fff"},{"offset":0.5645,"color":"#1c1c1c"},{"offset":0.566,"color":"#fff"},
          {"offset":0.573,"color":"#fff"},{"offset":0.5745,"color":"#1c1c1c"},{"offset":0.576,"color":"#fff"},
          {"offset":0.583,"color":"#fff"},{"offset":0.5845,"color":"#1c1c1c"},{"offset":0.586,"color":"#fff"},
          {"offset":0.593,"color":"#fff"},{"offset":0.5945,"color":"#1c1c1c"},{"offset":0.596,"color":"#fff"},
          {"offset":0.603,"color":"#fff"},{"offset":0.6045,"color":"#1c1c1c"},{"offset":0.606,"color":"#fff"},
          {"offset":0.613,"color":"#fff"},{"offset":0.6145,"color":"#1c1c1c"},{"offset":0.616,"color":"#fff"},
          {"offset":0.623,"color":"#fff"},{"offset":0.6245,"color":"#1c1c1c"},{"offset":0.626,"color":"#fff"},
          {"offset":0.633,"color":"#fff"},{"offset":0.6345,"color":"#1c1c1c"},{"offset":0.636,"color":"#fff"},
          {"offset":0.643,"color":"#fff"},{"offset":0.6445,"color":"#1c1c1c"},{"offset":0.646,"color":"#fff"},
          {"offset":0.653,"color":"#fff"},{"offset":0.6545,"color":"#1c1c1c"},{"offset":0.656,"color":"#fff"},
          {"offset":0.663,"color":"#fff"},{"offset":0.6645,"color":"#1c1c1c"},{"offset":0.666,"color":"#fff"},
          {"offset":0.673,"color":"#fff"},{"offset":0.6745,"color":"#1c1c1c"},{"offset":0.676,"color":"#fff"},
          {"offset":0.683,"color":"#fff"},{"offset":0.6845,"color":"#1c1c1c"},{"offset":0.686,"color":"#fff"},
          {"offset":0.693,"color":"#fff"},{"offset":0.6945,"color":"#1c1c1c"},{"offset":0.696,"color":"#fff"},
          {"offset":0.703,"color":"#fff"},{"offset":0.7045,"color":"#1c1c1c"},{"offset":0.706,"color":"#fff"},
          {"offset":0.713,"color":"#fff"},{"offset":0.7145,"color":"#1c1c1c"},{"offset":0.716,"color":"#fff"},
          {"offset":0.723,"color":"#fff"},{"offset":0.7245,"color":"#1c1c1c"},{"offset":0.726,"color":"#fff"},
          {"offset":0.733,"color":"#fff"},{"offset":0.7345,"color":"#1c1c1c"},{"offset":0.736,"color":"#fff"},
          {"offset":0.743,"color":"#fff"},{"offset":0.7445,"color":"#1c1c1c"},{"offset":0.746,"color":"#fff"},
          {"offset":0.753,"color":"#fff"},{"offset":0.7545,"color":"#1c1c1c"},{"offset":0.756,"color":"#fff"},
          {"offset":0.763,"color":"#fff"},{"offset":0.7645,"color":"#1c1c1c"},{"offset":0.766,"color":"#fff"},
          {"offset":0.773,"color":"#fff"},{"offset":0.7745,"color":"#1c1c1c"},{"offset":0.776,"color":"#fff"},
          {"offset":0.783,"color":"#fff"},{"offset":0.7845,"color":"#1c1c1c"},{"offset":0.786,"color":"#fff"},
          {"offset":0.793,"color":"#fff"},{"offset":0.7945,"color":"#1c1c1c"},{"offset":0.796,"color":"#fff"},
          {"offset":0.803,"color":"#fff"},{"offset":0.8045,"color":"#1c1c1c"},{"offset":0.806,"color":"#fff"},
          {"offset":0.813,"color":"#fff"},{"offset":0.8145,"color":"#1c1c1c"},{"offset":0.816,"color":"#fff"},
          {"offset":0.823,"color":"#fff"},{"offset":0.8245,"color":"#1c1c1c"},{"offset":0.826,"color":"#fff"},
          {"offset":0.833,"color":"#fff"},{"offset":0.8345,"color":"#1c1c1c"},{"offset":0.836,"color":"#fff"},
          {"offset":0.843,"color":"#fff"},{"offset":0.8445,"color":"#1c1c1c"},{"offset":0.846,"color":"#fff"},
          {"offset":0.853,"color":"#fff"},{"offset":0.8545,"color":"#1c1c1c"},{"offset":0.856,"color":"#fff"},
          {"offset":0.863,"color":"#fff"},{"offset":0.8645,"color":"#1c1c1c"},{"offset":0.866,"color":"#fff"},
          {"offset":0.873,"color":"#fff"},{"offset":0.8745,"color":"#1c1c1c"},{"offset":0.876,"color":"#fff"},
          {"offset":0.883,"color":"#fff"},{"offset":0.8845,"color":"#1c1c1c"},{"offset":0.886,"color":"#fff"},
          {"offset":0.893,"color":"#fff"},{"offset":0.8945,"color":"#1c1c1c"},{"offset":0.896,"color":"#fff"},
          {"offset":0.903,"color":"#fff"},{"offset":0.9045,"color":"#1c1c1c"},{"offset":0.906,"color":"#fff"},
          {"offset":0.913,"color":"#fff"},{"offset":0.9145,"color":"#1c1c1c"},{"offset":0.916,"color":"#fff"},
          {"offset":0.923,"color":"#fff"},{"offset":0.9245,"color":"#1c1c1c"},{"offset":0.926,"color":"#fff"},
          {"offset":0.933,"color":"#fff"},{"offset":0.9345,"color":"#1c1c1c"},{"offset":0.936,"color":"#fff"},
          {"offset":0.943,"color":"#fff"},{"offset":0.9445,"color":"#1c1c1c"},{"offset":0.946,"color":"#fff"},
          {"offset":0.953,"color":"#fff"},{"offset":0.9545,"color":"#1c1c1c"},{"offset":0.956,"color":"#fff"},
          {"offset":0.963,"color":"#fff"},{"offset":0.9645,"color":"#1c1c1c"},{"offset":0.966,"color":"#fff"},
          {"offset":0.973,"color":"#fff"},{"offset":0.9745,"color":"#1c1c1c"},{"offset":0.976,"color":"#fff"},
          {"offset":0.983,"color":"#fff"},{"offset":0.9845,"color":"#1c1c1c"},{"offset":0.986,"color":"#fff"},
          {"offset":0.993,"color":"#fff"},{"offset":0.9945,"color":"#1c1c1c"},{"offset":0.996,"color":"#fff"}
        ]}
      }
    }
  ]
}
